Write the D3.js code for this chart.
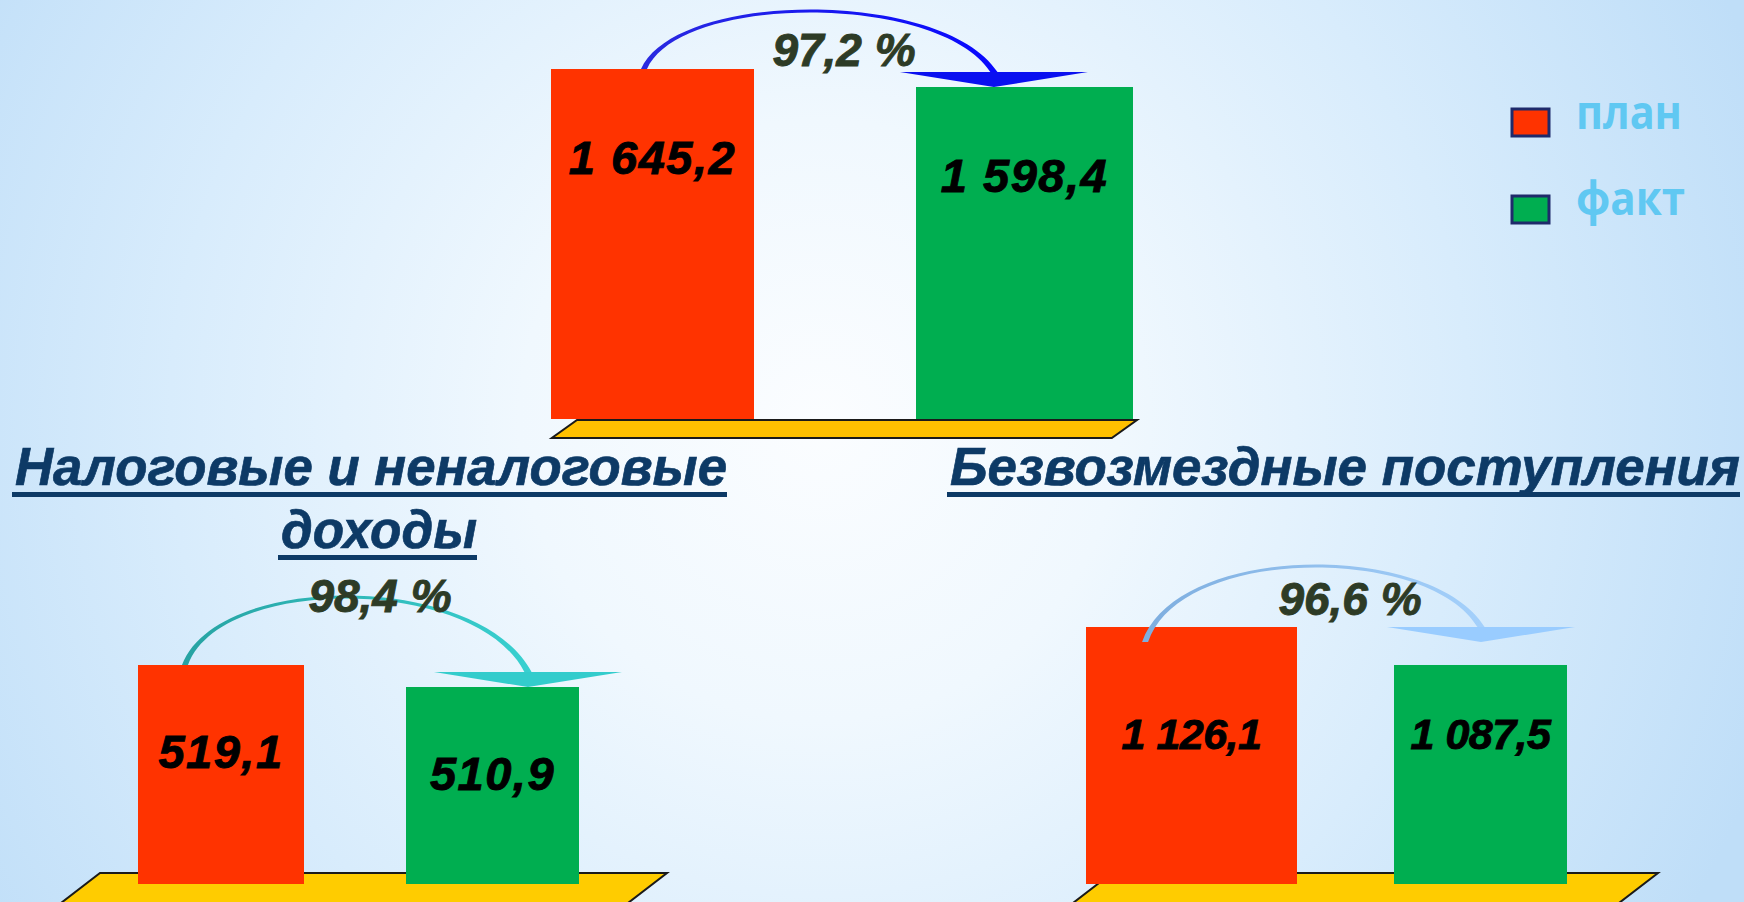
<!DOCTYPE html>
<html lang="ru">
<head>
<meta charset="UTF-8" />
<title>Доходы бюджета: план и факт</title>
<script src="https://d3js.org/d3.v7.min.js"></script>
<style>
  body { margin:0; padding:0; overflow:hidden; background:#e8f4fd; }
  svg { display:block; }
  .val { font-family:"Liberation Sans", Arial, sans-serif; font-weight:bold; font-style:italic; fill:#000; stroke:#000; stroke-width:0.9px; text-anchor:middle; }
  .pct { font-family:"Liberation Sans", Arial, sans-serif; font-weight:bold; font-style:italic; fill:#2d3b26; stroke:#2d3b26; stroke-width:0.9px; font-size:46px; text-anchor:middle; }
  .title { font-family:"Liberation Sans", Arial, sans-serif; font-weight:bold; font-style:italic; fill:#0d3a66; stroke:#0d3a66; stroke-width:0.7px; font-size:53px; }
  .legend text { font-family:"Open Sans", sans-serif; font-weight:bold; font-size:46px; fill:#60c8f2; }
</style>
</head>
<body>
<svg id="chart" width="1744" height="902"></svg>
<script>
(function(){
  // values
  const panels      = ["Доходы всего", "Налоговые и неналоговые доходы", "Безвозмездные поступления"];
  const titleLines  = [[], ["Налоговые и неналоговые", "доходы"], ["Безвозмездные поступления"]];
  const series      = ["план", "факт"];
  const planValues  = [1645.2, 519.1, 1126.1];
  const factValues  = [1598.4, 510.9, 1087.5];
  const percentDone = [97.2, 98.4, 96.6];
  // value axes of the source charts don't start at zero
  const axisMin     = [735, 437.5, 865];
  const axisMax     = [1645.2, 519.1, 1126.1];

  const colors = { "план": "#ff3300", "факт": "#00ae50" };
  const W = 1744, H = 902;

  // where each little chart sits on the slide
  const layout = [
    { centers:[652.5, 1024.5], widths:[203, 217], floorY:419, topY:69,
      floor:{ x0:577, x1:1137, y:420, depth:18, slant:1.4, fill:"#ffc000" },
      valSize:47, spacing:1.5, labelY:d => d.top + 105,
      arc:{ sx:0.458, sOff:0, ex:0.359, tipOff:0, lift:58, c0:"#2a2ae0", c1:"#0808ff", head:"#0a10f0" },
      pct:{ x:844, y:66 },
      titles:[] },
    { centers:[221, 492.5], widths:[166, 173], floorY:884, topY:665,
      floor:{ x0:100, x1:667, y:873, depth:34, slant:1.3, fill:"#ffcc00" },
      valSize:47, spacing:1.5, labelY:d => d.top + 103,
      arc:{ sx:0.283, sOff:0, ex:0.705, tipOff:0, lift:68, c0:"#27a3a3", c1:"#38d0d0", head:"#33cccc" },
      pct:{ x:380, y:612 },
      titles:[ { x0:15, x1:727, y:485 }, { x0:281, x1:477, y:548 } ] },
    { centers:[1191.5, 1480.5], widths:[211, 173], floorY:884, topY:627,
      floor:{ x0:1112, x1:1658, y:873, depth:34, slant:1.3, fill:"#ffcc00" },
      valSize:43, spacing:-0.5, labelY:() => 749,
      arc:{ sx:0.28, sOff:15, ex:0.503, tipOff:-23, lift:61, c0:"#7eaedf", c1:"#a4d0fb", head:"#99ccff" },
      pct:{ x:1350, y:615 },
      titles:[ { x0:950, x1:1740, y:485 } ] }
  ];

  const ru = d3.formatLocale({ decimal:",", thousands:" ", grouping:[3], currency:["",""] });
  const fmtVal = ru.format(",.1f");
  const fmtPct = v => ru.format(".1f")(v) + " %";

  const svg = d3.select("#chart");
  const defs = svg.append("defs");

  // background
  const bg = defs.append("radialGradient").attr("id","bg")
    .attr("gradientUnits","userSpaceOnUse")
    .attr("cx", 820).attr("cy", 420).attr("r", 1000);
  [[0,"#fbfdff"],[0.3,"#f0f8fe"],[0.65,"#d8ecfc"],[1,"#bfdef8"]].forEach(s =>
    bg.append("stop").attr("offset", s[0]).attr("stop-color", s[1]));
  svg.append("rect").attr("width", W).attr("height", H).attr("fill","url(#bg)");

  panels.forEach((name, i) => {
    const L = layout[i];
    const g = svg.append("g").attr("class","panel").attr("data-name", name);

    const y = d3.scaleLinear().domain([axisMin[i], axisMax[i]]).range([L.floorY, L.topY]);
    const x = d3.scalePoint().domain(series).range(L.centers);

    const rows = series.map((s, j) => {
      const v = j === 0 ? planValues[i] : factValues[i];
      const w = L.widths[j];
      return { s, v, w, x: x(s) - w/2, cx: x(s), top: y(v) };
    });

    // floor of the 3d plot area
    const f = L.floor, off = f.slant * f.depth;
    g.append("path")
      .attr("d", d3.line()([[f.x0, f.y],[f.x1, f.y],[f.x1 - off, f.y + f.depth],[f.x0 - off, f.y + f.depth]]) + "Z")
      .attr("fill", f.fill).attr("stroke","#1a1a1a").attr("stroke-width", 2);

    // bars
    g.selectAll("rect.bar").data(rows).enter().append("rect")
      .attr("class","bar")
      .attr("x", d => d.x).attr("y", d => d.top)
      .attr("width", d => d.w).attr("height", d => L.floorY - d.top)
      .attr("fill", d => colors[d.s]);

    // curved arrow from plan to fact
    const a = L.arc, b0 = rows[0], b1 = rows[1];
    const sx = b0.x + a.sx * b0.w, sy = b0.top + a.sOff;
    const ex = b1.x + a.ex * b1.w, tip = b1.top + a.tipOff, base = tip - 15;
    const peakY = b0.top - a.lift;
    const c = (8 * peakY - sy - base) / 6;
    const x1 = sx + 0.1 * (ex - sx), x2 = sx + 0.85 * (ex - sx);
    const w0 = 3, w1 = 3.6, wm = 2;

    const gid = "arc" + i;
    const lg = defs.append("linearGradient").attr("id", gid)
      .attr("gradientUnits","userSpaceOnUse")
      .attr("x1", sx).attr("y1", 0).attr("x2", ex).attr("y2", 0);
    lg.append("stop").attr("offset", 0).attr("stop-color", a.c0);
    lg.append("stop").attr("offset", 1).attr("stop-color", a.c1);

    const p = d3.path();
    p.moveTo(sx - w0, sy);
    p.bezierCurveTo(x1 - w0/2, c - wm, x2 + w1/2, c - wm, ex + w1, base);
    p.lineTo(ex - w1, base);
    p.bezierCurveTo(x2 - w1/2, c + wm, x1 + w0/2, c + wm, sx + w0, sy);
    p.closePath();
    g.append("path").attr("d", p.toString()).attr("fill", "url(#" + gid + ")");

    g.append("path")
      .attr("d", d3.line()([[ex - 94, base],[ex + 94, base],[ex, tip]]) + "Z")
      .attr("fill", a.head);

    // value labels
    g.selectAll("text.val").data(rows).enter().append("text")
      .attr("class","val")
      .attr("x", d => d.cx).attr("y", L.labelY)
      .style("font-size", L.valSize + "px")
      .style("letter-spacing", L.spacing + "px")
      .text(d => fmtVal(d.v));

    // execution percent
    g.append("text").attr("class","pct")
      .attr("x", L.pct.x).attr("y", L.pct.y)
      .text(fmtPct(percentDone[i]));

    // underlined titles
    titleLines[i].forEach((t, k) => {
      const tl = L.titles[k];
      g.append("text").attr("class","title")
        .attr("x", tl.x0).attr("y", tl.y)
        .attr("textLength", tl.x1 - tl.x0)
        .attr("lengthAdjust","spacingAndGlyphs")
        .text(t);
      g.append("rect")
        .attr("x", tl.x0 - 3).attr("y", tl.y + 7)
        .attr("width", tl.x1 - tl.x0 + 3).attr("height", 5)
        .attr("fill","#0d3a66");
    });
  });

  // legend
  const ly = d3.scalePoint().domain(series).range([109, 196]);
  const legend = svg.append("g").attr("class","legend");
  const item = legend.selectAll("g").data(series).enter().append("g")
    .attr("transform", s => `translate(1512,${ly(s)})`);
  item.append("rect")
    .attr("width", 37).attr("height", 27)
    .attr("fill", s => colors[s])
    .attr("stroke","#1f2a6b").attr("stroke-width", 3);
  item.append("text")
    .attr("x", 64).attr("y", (s, j) => j === 0 ? 20 : 19)
    .attr("textLength", (s, j) => j === 0 ? 106 : 109)
    .attr("lengthAdjust","spacingAndGlyphs")
    .text(s => s);
})();
</script>
</body>
</html>
